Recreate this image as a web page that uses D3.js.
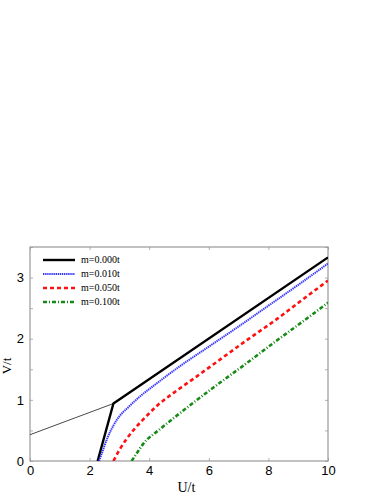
<!DOCTYPE html>
<html>
<head>
<meta charset="utf-8">
<script src="https://cdn.jsdelivr.net/npm/d3@7"></script>
<style>
body { margin: 0; background: #fff; }
svg { display: block; font-family: "Liberation Serif", "DejaVu Serif", serif; }
</style>
</head>
<body>
<div id="chart"></div>
<script>
// values
var xTicks = [0, 2, 4, 6, 8, 10];
var yTicks = [0, 1, 2, 3];
var yMinor = [0.5, 1.5, 2.5, 3.5];

var thinLine = [[0, 0.43], [2.8, 0.94]];
var m000 = [[2.27, 0], [2.8, 0.94], [10, 3.33]];
var m010 = [[2.32, 0], [2.45, 0.18], [2.6, 0.38], [2.8, 0.58], [3.0, 0.73], [3.3, 0.88],
            [3.7, 1.06], [4.2, 1.25], [5, 1.54], [6, 1.87], [7, 2.2], [8, 2.54], [9, 2.88], [10, 3.23]];
var m050 = [[2.8, 0], [3.0, 0.18], [3.24, 0.36], [3.5, 0.52], [3.8, 0.68], [4.3, 0.92],
            [4.92, 1.15], [5.5, 1.35], [6.04, 1.54], [7.2, 1.95], [8.28, 2.32], [9.12, 2.63], [10, 2.95]];
var m100 = [[3.41, 0], [3.6, 0.14], [3.8, 0.28], [4.36, 0.52], [4.92, 0.74], [6.04, 1.16],
            [7.16, 1.56], [8.28, 1.97], [9.4, 2.37], [10, 2.59]];

var seriesNames = ["m=0.000t", "m=0.010t", "m=0.050t", "m=0.100t"];
var seriesData = [m000, m010, m050, m100];
var seriesColors = ["#000000", "#3838ff", "#ff1010", "#168a16"];
var seriesDash = [null, "1.4,0.7", "4,3", "4,2,1,2"];
var seriesWidth = [2.4, 2, 2.6, 2.6];

var W = 382, H = 494;
var margin = {top: 247, right: 54, bottom: 33, left: 30};
var width = W - margin.left - margin.right,
    height = H - margin.top - margin.bottom;

var svg = d3.select("#chart")
    .append("svg")
        .attr("width", W)
        .attr("height", H)
    .append("g")
        .attr("transform", "translate(" + margin.left + "," + margin.top + ")");

var x = d3.scaleLinear().domain([0, 10]).range([0, width]);
var y = d3.scaleLinear().domain([0, 3.5]).range([height, 0]);

svg.append("defs").append("clipPath").attr("id", "clip")
    .append("rect").attr("width", width).attr("height", height);

var tickColor = "#b0b0b0";

// bottom and top ticks (inward)
svg.append("g")
    .attr("transform", "translate(0," + height + ")")
    .call(d3.axisBottom(x).tickValues(xTicks).tickSize(-3).tickPadding(5).tickFormat(d3.format("d")))
    .call(g => g.select(".domain").remove())
    .call(g => g.selectAll("line").attr("stroke", tickColor))
    .call(g => g.selectAll("text").attr("fill", "#000").style("font-size", "13px").style("font-family", "inherit"));

svg.append("g")
    .call(d3.axisTop(x).tickValues(xTicks).tickSize(-3).tickFormat(""))
    .call(g => g.select(".domain").remove())
    .call(g => g.selectAll("line").attr("stroke", tickColor));

// left and right ticks
svg.append("g")
    .call(d3.axisLeft(y).tickValues(yTicks).tickSize(-3).tickPadding(6).tickFormat(d3.format("d")))
    .call(g => g.select(".domain").remove())
    .call(g => g.selectAll("line").attr("stroke", tickColor))
    .call(g => g.selectAll("text").attr("fill", "#000").style("font-size", "13px").style("font-family", "inherit"));

svg.append("g")
    .call(d3.axisLeft(y).tickValues(yMinor).tickSize(-3).tickFormat(""))
    .call(g => g.select(".domain").remove())
    .call(g => g.selectAll("line").attr("stroke", tickColor));

svg.append("g")
    .attr("transform", "translate(" + width + ",0)")
    .call(d3.axisRight(y).tickValues(yTicks.concat(yMinor)).tickSize(-3).tickFormat(""))
    .call(g => g.select(".domain").remove())
    .call(g => g.selectAll("line").attr("stroke", tickColor));

// frame
svg.append("rect")
    .attr("width", width)
    .attr("height", height)
    .attr("fill", "none")
    .attr("stroke", "#999")
    .attr("stroke-width", 1.2);

var line = d3.line()
    .x(function(d) { return x(d[0]); })
    .y(function(d) { return y(d[1]); });
var curve = d3.line()
    .curve(d3.curveMonotoneX)
    .x(function(d) { return x(d[0]); })
    .y(function(d) { return y(d[1]); });

var plot = svg.append("g").attr("clip-path", "url(#clip)");

plot.append("path")
    .datum(thinLine)
    .attr("d", line)
    .attr("fill", "none")
    .attr("stroke", "#333")
    .attr("stroke-width", 0.9);

seriesData.forEach(function(data, i) {
    plot.append("path")
        .datum(data)
        .attr("d", i == 0 ? line : curve)
        .attr("fill", "none")
        .attr("stroke", seriesColors[i])
        .attr("stroke-width", seriesWidth[i])
        .attr("stroke-dasharray", seriesDash[i]);
});

// legend
var legend = svg.append("g").attr("transform", "translate(13,13)");
seriesNames.forEach(function(name, i) {
    var row = legend.append("g").attr("transform", "translate(0," + (i * 14) + ")");
    row.append("line")
        .attr("x1", 0).attr("x2", 32)
        .attr("stroke", seriesColors[i])
        .attr("stroke-width", seriesWidth[i])
        .attr("stroke-dasharray", seriesDash[i]);
    row.append("text")
        .attr("x", 38)
        .attr("dy", "0.32em")
        .style("font-size", "10px")
        .text(name);
});

// axis titles
svg.append("text")
    .attr("x", x(5.25))
    .attr("y", height + 31)
    .attr("text-anchor", "middle")
    .style("font-size", "14px")
    .text("U/t");

svg.append("text")
    .attr("transform", "translate(-19," + (height / 2 + 12) + ") rotate(-90)")
    .attr("text-anchor", "middle")
    .style("font-size", "13px")
    .text("V/t");
</script>
</body>
</html>
